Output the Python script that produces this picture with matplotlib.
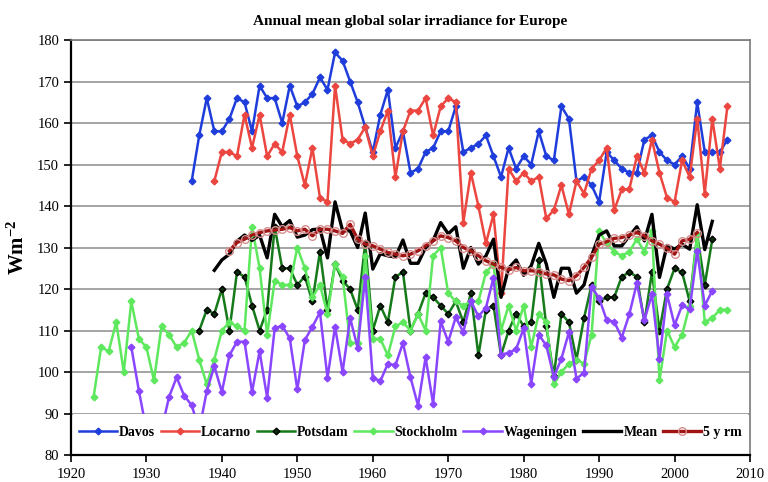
import numpy as np
import matplotlib
matplotlib.use("Agg")
import matplotlib.pyplot as plt
from matplotlib.patches import Rectangle

plt.rcParams['font.family'] = ['Liberation Serif', 'DejaVu Serif']
plt.rcParams['mathtext.fontset'] = 'custom'
plt.rcParams['mathtext.rm'] = 'Liberation Serif'
plt.rcParams['mathtext.bf'] = 'Liberation Serif:bold'

# annual values (W m-2)
davos_start = 1936
davos = [146, 157, 166, 158, 158, 161, 166, 165, 158, 169, 166, 166, 160, 169, 164, 165,
         167, 171, 168, 177, 175, 170, 165, 159, 153, 162, 168, 154, 158, 148, 149, 153,
         154, 158, 158, 164, 153, 154, 155, 157, 152, 147, 154, 149, 152, 150, 158, 152,
         151, 164, 161, 146, 147, 145, 141, 153, 151, 149, 148, 148, 156, 157, 153, 151,
         150, 152, 149, 165, 153, 153, 153, 156]

locarno_start = 1939
locarno = [146, 153, 153, 152, 162, 154, 162, 152, 155, 153, 162, 152, 145, 154, 142, 141,
           169, 156, 155, 156, 159, 152, 158, 163, 147, 158, 163, 163, 166, 157, 164, 166,
           165, 136, 148, 140, 131, 138, 119, 149, 146, 148, 146, 147, 137, 139, 145, 138,
           146, 143, 149, 151, 154, 139, 144, 144, 152, 148, 156, 148, 142, 141, 151, 147,
           161, 143, 161, 149, 164]

potsdam_start = 1937
potsdam = [110, 115, 114, 120, 110, 124, 123, 116, 110, 115, 135, 125, 125, 121, 123, 117,
           129, 115, 126, 122, 120, 115, 131, 110, 116, 112, 123, 124, 110, 114, 119, 118,
           116, 114, 117, 112, 119, 104, 115, 116, 104, 110, 114, 111, 112, 127, 111, 99,
           114, 112, 103, 113, 121, 117, 118, 118, 123, 124, 123, 112, 124, 110, 120, 125,
           124, 117, 133, 121, 132]

stockholm_start = 1923
stockholm = [94, 106, 105, 112, 100, 117, 108, 106, 98, 111, 109, 106, 107, 110, 103, 97,
             103, 110, 112, 111, 110, 135, 125, 109, 122, 121, 121, 130, 125, 118, 121, 114,
             126, 123, 107, 107, 128, 108, 108, 104, 111, 112, 110, 114, 110, 128, 130, 119,
             117, 116, 117, 117, 124, 126, 110, 116, 110, 116, 106, 114, 112, 97, 100, 102,
             103, 102, 109, 134, 131, 129, 128, 129, 132, 129, 134, 98, 110, 106, 109, 116,
             133, 112, 113, 115, 115]

wageningen_start = 1928
wageningen = [106, 95.5, 86, 84, 86, 94, 98.7, 94.3, 92, 86, 95.4, 101.4, 95.2, 104, 107.3,
              107.3, 95.2, 105, 93.8, 110.5, 111.2, 108.1, 95.8, 107.7, 110.9, 114.4, 98.6,
              110.9, 100, 113, 105.8, 123, 98.6, 97.8, 102, 101.6, 107, 98.7, 91.9, 103.5,
              92.3, 112.2, 107.3, 113.2, 109.6, 117.1, 113.4, 115.5, 122.7, 104.2, 104.6,
              105.5, 110.5, 97.2, 109, 106.4, 98.8, 103.2, 109.6, 98.4, 99.8, 120.5, 117.8,
              112.5, 112.1, 108.3, 113.9, 121.4, 112.5, 118.7, 103.1, 118.7, 111.3, 116.1,
              115.1, 129.1, 116, 119.6]

mean_start = 1939
mean = [124.5, 127, 128.4, 131.5, 133, 131.7, 133, 127.5, 138, 135, 136.5, 132.5, 133,
        134.3, 134.5, 127.5, 141, 134.1, 134, 130, 138.3, 124.8, 128.5, 128, 127.7, 131.8,
        126.2, 126.2, 130, 131.7, 136, 133.3, 135, 125, 130, 126, 128, 132, 118, 125, 127,
        123.3, 125.6, 131, 126, 118, 125, 125, 119, 121, 128, 133, 134, 130.4, 130.4, 132.8,
        135, 131.6, 138, 122.8, 130.5, 129.6, 130.8, 129.6, 140.3, 129.5, 136.3]

rm_start = 1941
rm5 = [129.2, 131.2, 132, 133, 133.6, 134, 134.2, 134.4, 134.8, 134, 134.4, 132.8, 134.4,
       134.4, 134, 133.4, 135.6, 132, 130.8, 130.4, 129.6, 128.8, 128.4, 128, 128.4, 129.2,
       130.4, 131.6, 132.8, 132.4, 131.6, 130, 129.2, 128, 126.8, 126, 125.2, 124.6, 125.2,
       124.4, 124.4, 124.2, 123.6, 123.4, 122.4, 122, 123.2, 125.2, 127.6, 130.8, 131.4,
       132.2, 132.4, 133, 133.6, 132.8, 131.6, 130.8, 129.8, 128.4, 131.6, 132, 133.6]


def yrs(start, vals):
    return np.arange(start, start + len(vals))


fig = plt.figure(figsize=(7.68, 4.82), dpi=100)
ax = fig.add_axes([0.0924, 0.056, 0.8842, 0.861])

ax.set_xlim(1920, 2010)
ax.set_ylim(80, 180)
ax.set_xticks(np.arange(1920, 2011, 10))
ax.set_yticks(np.arange(80, 181, 10))
ax.yaxis.grid(True, color='#8c8c8c', lw=1.1)
ax.set_axisbelow(True)

mk = dict(marker='D', markersize=3.4)
ax.plot(yrs(davos_start, davos), davos, color='#1f3ddb', lw=1.8, mec='#1f3ddb', label='Davos', **mk)
ax.plot(yrs(locarno_start, locarno), locarno, color='#ec4640', lw=1.8, mec='#ec4640', label='Locarno', **mk)
ax.plot(yrs(potsdam_start, potsdam), potsdam, color='#16791a', lw=1.8, mfc='#0b2e0b', mec='black', label='Potsdam', **mk)
ax.plot(yrs(stockholm_start, stockholm), stockholm, color='#5ee85e', lw=1.8, mec='#5ee85e', label='Stockholm', **mk)
ax.plot(yrs(wageningen_start, wageningen), wageningen, color='#8a46ff', lw=1.8, mec='#8a46ff', label='Wageningen', **mk)
ax.plot(yrs(mean_start, mean), mean, color='black', lw=2.4, label='Mean')
ax.plot(yrs(rm_start, rm5), rm5, color='#a01414', lw=2.4, marker='o', markersize=5.5,
        mfc='none', mec='#d68e8e', mew=1.0, label='5 y rm')

# white band under the legend, like the original
ax.add_patch(Rectangle((0.003, 0.004), 0.994, 0.094, transform=ax.transAxes,
                       facecolor='white', edgecolor='none', zorder=3))
leg = ax.legend(loc='center', bbox_to_anchor=(0.5, 0.055), ncol=7, frameon=False,
                prop={'weight': 'bold', 'size': 10}, handlelength=2.75,
                handletextpad=0.15, columnspacing=0.4)
leg.set_zorder(4)

for s in ['left', 'bottom']:
    ax.spines[s].set_color('black')
    ax.spines[s].set_linewidth(1.6)
for s in ['top', 'right']:
    ax.spines[s].set_color('#7a7a7a')
    ax.spines[s].set_linewidth(1.2)

ax.tick_params(axis='both', direction='out', length=5, width=1.2, labelsize=10.5)
ax.tick_params(axis='x', pad=4)

ax.set_title('Annual mean global solar irradiance for Europe', fontsize=11,
             fontweight='bold', pad=11)
ax.set_ylabel(r'$\mathbf{Wm^{-2}}$', fontsize=15, labelpad=6)

fig.savefig('out.png', dpi=100)
